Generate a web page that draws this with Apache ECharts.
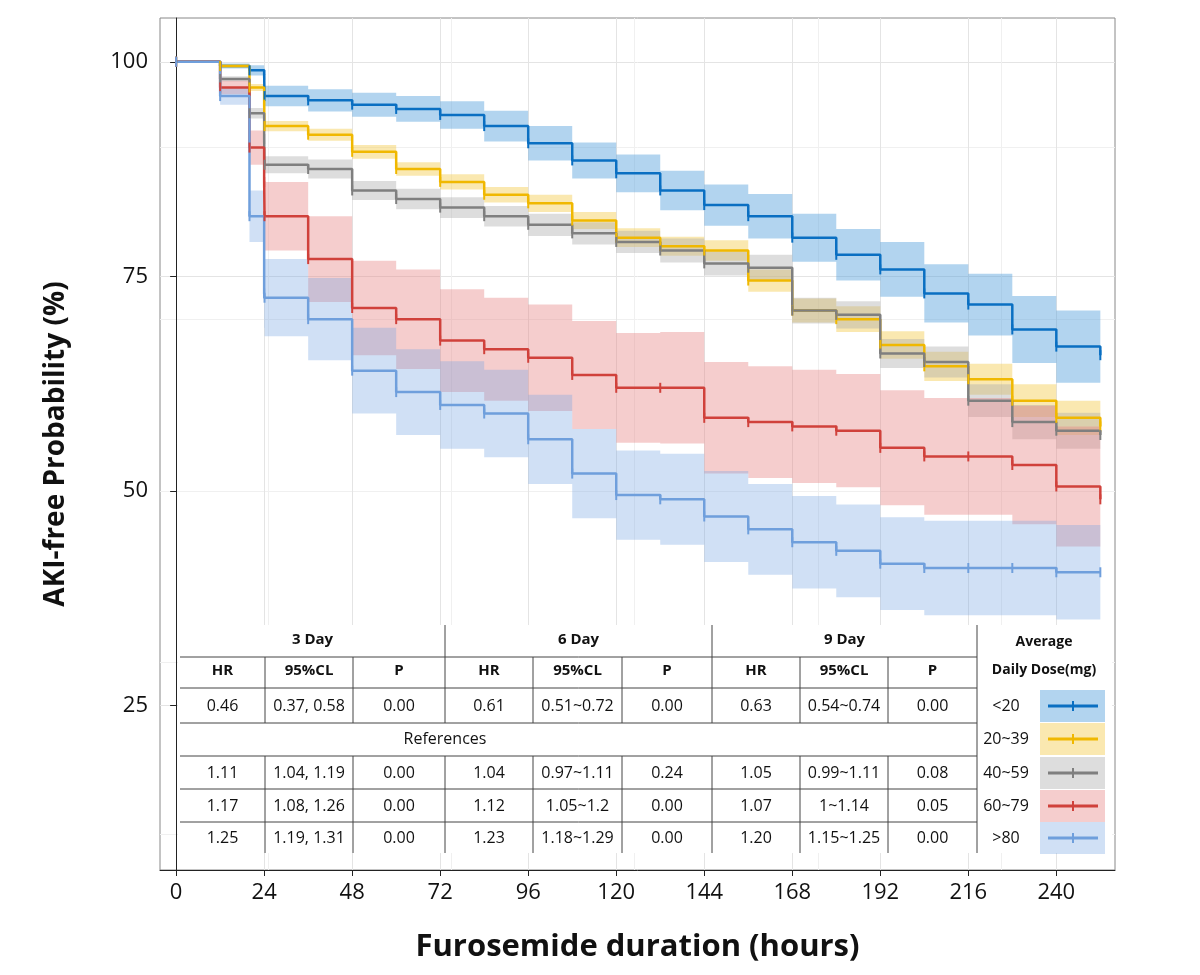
<!DOCTYPE html>
<html>
<head>
<meta charset="utf-8">
<script src="https://cdn.jsdelivr.net/npm/echarts@6/dist/echarts.min.js"></script>
<style>html,body{margin:0;background:#fff}#main{width:1200px;height:975px}</style>
</head>
<body>
<div id="main"></div>
<script>
// hours, survival, half-width of the 95% band
var hours = [0, 12, 20, 24, 24.1, 36, 48, 60, 72, 84, 96, 108, 120, 132, 144, 156, 168, 180, 192, 204, 216, 228, 240, 252];
var dose20 = [100, 99.5, 99, 98.5, 96, 95.5, 95, 94.5, 93.8, 92.5, 90.5, 88.5, 87, 85, 83.3, 82, 79.5, 77.5, 75.8, 73, 71.7, 68.8, 66.8, 65.8];
var dose20w = [0, 0.3, 0.6, 0.8, 1.2, 1.3, 1.4, 1.5, 1.6, 1.8, 2, 2.1, 2.2, 2.3, 2.4, 2.6, 2.8, 3, 3.2, 3.4, 3.6, 3.9, 4.2, 4.5];
var dose39 = [100, 99.5, 97, 95, 92.5, 91.5, 89.5, 87.5, 86, 84.5, 83.5, 81.5, 79.5, 78.5, 78, 74.5, 71, 70, 67, 64.5, 63, 60.5, 58.5, 57.5];
var dose39w = [0, 0.2, 0.4, 0.5, 0.6, 0.7, 0.8, 0.8, 0.9, 0.9, 1, 1, 1.1, 1.1, 1.2, 1.3, 1.4, 1.5, 1.6, 1.7, 1.8, 1.9, 2, 2.1];
var dose59 = [100, 98, 94, 91, 88, 87.5, 85, 84, 83, 82, 81, 80, 79, 78, 76.5, 76, 71, 70.5, 66, 65, 60.5, 58, 57, 56.5];
var dose59w = [0, 0.3, 0.6, 0.8, 1, 1.1, 1.1, 1.2, 1.2, 1.2, 1.3, 1.3, 1.3, 1.4, 1.4, 1.5, 1.5, 1.6, 1.7, 1.8, 1.9, 2, 2.1, 2.2];
var dose79 = [100, 97, 90, 86, 82, 77, 71.3, 70, 67.5, 66.5, 65.5, 63.5, 62, 62, 58.5, 58, 57.5, 57, 55, 54, 54, 53, 50.5, 49];
var dose79w = [0, 0.8, 2, 3, 4, 5, 5.5, 5.8, 6, 6, 6.2, 6.3, 6.4, 6.5, 6.5, 6.5, 6.6, 6.6, 6.7, 6.8, 6.8, 6.9, 7, 7];
var doseHi = [100, 96, 82, 73, 72.5, 70, 64, 61.5, 60, 59, 56, 52, 49.5, 49, 47, 45.5, 44, 43, 41.5, 41, 41, 41, 40.5, 40.5];
var doseHiw = [0, 1, 3, 4, 4.5, 4.8, 5, 5, 5.1, 5.1, 5.2, 5.2, 5.2, 5.3, 5.3, 5.3, 5.4, 5.4, 5.4, 5.5, 5.5, 5.5, 5.5, 5.5];

var groupNames = ["<20", "20~39", "40~59", "60~79", ">80"];
var lineColors = ["#0a6fc2", "#f0b800", "#7f7f7f", "#d0413b", "#6f9fdc"];
var bandColors = ["rgba(84,160,220,0.45)", "rgba(245,205,80,0.45)", "rgba(170,170,170,0.4)", "rgba(230,130,130,0.4)", "rgba(120,165,225,0.35)"];

var tableHead = ["HR", "95%CL", "P", "HR", "95%CL", "P", "HR", "95%CL", "P"];
var tableRows = [
    ["0.46", "0.37, 0.58", "0.00", "0.61", "0.51~0.72", "0.00", "0.63", "0.54~0.74", "0.00"],
    null,
    ["1.11", "1.04, 1.19", "0.00", "1.04", "0.97~1.11", "0.24", "1.05", "0.99~1.11", "0.08"],
    ["1.17", "1.08, 1.26", "0.00", "1.12", "1.05~1.2", "0.00", "1.07", "1~1.14", "0.05"],
    ["1.25", "1.19, 1.31", "0.00", "1.23", "1.18~1.29", "0.00", "1.20", "1.15~1.25", "0.00"]
];

var curves = [[dose20, dose20w], [dose39, dose39w], [dose59, dose59w], [dose79, dose79w], [doseHi, doseHiw]];
var series = [];
curves.forEach(function (c, i) {
    var band = hours.map(function (h, k) { return [h, c[0][k] - c[1][k], c[0][k] + c[1][k]]; });
    series.push({
        type: "custom", data: band, silent: true, z: 1, clip: true,
        encode: { x: 0, y: [1, 2] },
        renderItem: function (params, api) {
            if (params.dataIndex !== 0) return;
            var up = [], lo = [];
            for (var k = 0; k < band.length; k++) {
                var xEnd = k + 1 < band.length ? band[k + 1][0] : band[k][0];
                up.push(api.coord([band[k][0], band[k][2]]), api.coord([xEnd, band[k][2]]));
                lo.push(api.coord([band[k][0], band[k][1]]), api.coord([xEnd, band[k][1]]));
            }
            return { type: "polygon", shape: { points: up.concat(lo.reverse()) }, style: { fill: bandColors[i] } };
        }
    });
});
curves.forEach(function (c, i) {
    series.push({
        name: groupNames[i], type: "line", step: "end", z: 3,
        data: hours.map(function (h, k) { return [h, c[0][k]]; }),
        showSymbol: true, showAllSymbol: true,
        symbol: "rect", symbolSize: [2, 10], itemStyle: { color: lineColors[i] },
        lineStyle: { color: lineColors[i], width: 2.5 }
    });
});

// table graphics
var colX = [180, 265, 353, 445, 533, 622, 712, 800, 888, 977, 1110];
var g = [];
var font = '"Open Sans", sans-serif';
function txt(x, y, s, bold, size) {
    g.push({ type: "text", x: x, y: y, style: { text: s, fill: "#111", font: (bold ? "bold " : "") + (size || 15) + "px " + font, textAlign: "center", textVerticalAlign: "middle" }, z: 10 });
}
function ln(x1, y1, x2, y2, c, w) {
    g.push({ type: "line", shape: { x1: x1, y1: y1, x2: x2, y2: y2 }, style: { stroke: c || "#444", lineWidth: w || 1 }, z: 10 });
}
g.push({ type: "rect", shape: { x: 178, y: 625, width: 934, height: 228 }, style: { fill: "#fff" }, z: 9 });
["3 Day", "6 Day", "9 Day"].forEach(function (s, i) { txt((colX[i * 3] + colX[i * 3 + 3]) / 2, 640, s, true, 15); });
txt(1044, 642, "Average", true, 14);
txt(1044, 670, "Daily Dose(mg)", true, 14);
tableHead.forEach(function (s, i) { txt((colX[i] + colX[i + 1]) / 2, 671, s, true, 15); });
var rowY = [706, 739, 773, 806, 838];
tableRows.forEach(function (r, k) {
    if (r) r.forEach(function (s, i) { txt((colX[i] + colX[i + 1]) / 2, rowY[k], s, false, 16); });
    else txt(445, rowY[k], "References", false, 16);
    txt(1006, rowY[k], groupNames[k], false, 16);
    g.push({ type: "rect", shape: { x: 1040, y: rowY[k] - 16, width: 65, height: 32 }, style: { fill: bandColors[k] }, z: 10 });
    ln(1048, rowY[k], 1098, rowY[k], lineColors[k], 3);
    ln(1073, rowY[k] - 5, 1073, rowY[k] + 5, lineColors[k], 2);
});
ln(colX[0], 657, colX[9], 657);
[688, 723, 756, 789, 822].forEach(function (y) { ln(colX[0], y, colX[9], y); });
[3, 6, 9].forEach(function (i) { ln(colX[i], 625, colX[i], 723); ln(colX[i], 756, colX[i], 853); });
[1, 2, 4, 5, 7, 8].forEach(function (i) { ln(colX[i], 657, colX[i], 723); ln(colX[i], 756, colX[i], 853); });
ln(colX[9], 723, colX[9], 756);

var xLabels = [0, 24, 48, 72, 96, 120, 144, 168, 192, 216, 240];
var yLabels = [25, 50, 75, 100];

var chart = echarts.init(document.getElementById("main"));
chart.setOption({
    animation: false,
    grid: { left: 160, right: 85, top: 18, bottom: 105, show: true, borderColor: "#888", borderWidth: 1 },
    xAxis: {
        type: "value", min: -4.4, max: 256,
        name: "Furosemide duration (hours)", nameLocation: "middle", nameGap: 62,
        nameTextStyle: { fontSize: 31, fontWeight: "bold", color: "#111", fontFamily: font },
        axisLine: { lineStyle: { color: "#222" } },
        axisTick: { customValues: xLabels, length: 6, lineStyle: { color: "#222" } },
        axisLabel: { customValues: xLabels, fontSize: 22, color: "#111", fontFamily: font, margin: 12 },
        minorTick: { show: false, splitNumber: 2 },
        minorSplitLine: { show: true, lineStyle: { color: "#f0f0f0" } },
        splitLine: { show: true, lineStyle: { color: "#e4e4e4" } }
    },
    yAxis: {
        type: "value", min: 5.8, max: 105.1,
        name: "AKI-free Probability (%)", nameLocation: "middle", nameGap: 90,
        nameTextStyle: { fontSize: 28, fontWeight: "bold", color: "#111", fontFamily: font },
        axisLine: { show: true, lineStyle: { color: "#222" } },
        axisTick: { show: true, customValues: yLabels, length: 6, lineStyle: { color: "#222" } },
        axisLabel: { customValues: yLabels, fontSize: 22, color: "#111", fontFamily: font, margin: 12 },
        minorTick: { show: false, splitNumber: 2 },
        minorSplitLine: { show: true, lineStyle: { color: "#f0f0f0" } },
        splitLine: { show: true, lineStyle: { color: "#e4e4e4" } }
    },
    series: series,
    graphic: g
});
</script>
</body>
</html>
